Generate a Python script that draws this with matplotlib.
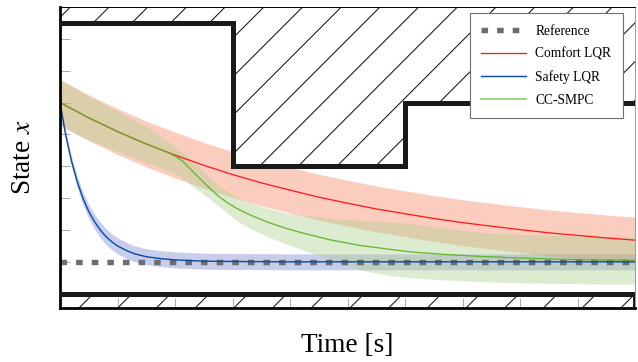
import numpy as np
import matplotlib
matplotlib.use("Agg")
import matplotlib.pyplot as plt
from matplotlib.lines import Line2D
from matplotlib.collections import LineCollection
from matplotlib.transforms import IdentityTransform

DPI = 232
plt.rcParams['font.family'] = ['Liberation Serif', 'DejaVu Serif']
plt.rcParams['mathtext.fontset'] = 'stix'

# constraints
t_con = [0, 3, 6, 10]
upper_con = [7.5, 3.0, 5.0, 5.0]
lower_con = -1.0
y_min, y_max = -1.45, 8.0

# reference
ref_value = 0.0

# comfort LQR (red)
t_red = [0, 0.5, 1.0, 1.5, 2.0, 2.5, 3.0, 3.5, 4.0, 4.5, 5.0, 5.5, 6.0, 6.5, 7.0,
         7.5, 8.0, 8.5, 9.0, 9.5, 10.0]
red_mean = [5.00, 4.52, 4.09, 3.70, 3.35, 3.03, 2.74, 2.48, 2.25, 2.03, 1.84, 1.66,
            1.51, 1.36, 1.23, 1.12, 1.01, 0.91, 0.83, 0.75, 0.68]
red_spread = [0.72] * 21

# safety LQR (blue)
t_blue = [0, 0.1, 0.2, 0.3, 0.4, 0.5, 0.6, 0.7, 0.8, 0.9, 1.0, 1.15, 1.3, 1.5, 1.75,
          2.0, 2.5, 3.0, 4.0, 5.0, 6.0, 7.0, 8.0, 9.0, 10.0]
blue_mean = [5.00, 3.97, 3.16, 2.51, 1.99, 1.58, 1.26, 1.00, 0.79, 0.63, 0.50, 0.36,
             0.25, 0.16, 0.10, 0.06, 0.02, 0.01, 0.0, 0.0, 0.0, 0.0, 0.0, 0.0, 0.0]
blue_spread = [0.08, 0.12, 0.15, 0.18, 0.20, 0.22, 0.23, 0.24, 0.25, 0.25, 0.25, 0.25,
               0.25, 0.25, 0.25, 0.25, 0.25, 0.25, 0.25, 0.25, 0.25, 0.25, 0.25, 0.25, 0.25]

# CC-SMPC (green)
t_green = [0, 0.5, 1.0, 1.5, 1.83, 2.0, 2.14, 2.3, 2.45, 2.6, 2.75, 2.9, 3.05, 3.2,
           3.36, 3.65, 3.95, 4.25, 4.7, 5.2, 5.7, 6.1, 6.7, 7.3, 8.0, 8.7, 9.4, 10.0]
green_mean = [5.00, 4.52, 4.09, 3.70, 3.47, 3.32, 3.15, 2.85, 2.58, 2.32, 2.07, 1.87,
              1.70, 1.56, 1.43, 1.22, 1.04, 0.89, 0.69, 0.52, 0.40, 0.31, 0.23, 0.17,
              0.12, 0.08, 0.06, 0.05]
green_hi = [5.72, 5.20, 4.72, 4.25, 3.85, 3.62, 3.42, 3.18, 2.92, 2.66, 2.40, 2.22,
            2.05, 1.92, 1.82, 1.66, 1.53, 1.45, 1.37, 1.30, 1.25, 1.20, 1.05, 0.92,
            0.86, 0.82, 0.79, 0.77]
green_lo = [4.28, 3.84, 3.46, 3.12, 2.90, 2.76, 2.62, 2.38, 2.18, 1.98, 1.76, 1.54,
            1.31, 1.15, 1.00, 0.76, 0.55, 0.35, 0.08, -0.25, -0.42, -0.50, -0.57, -0.62,
            -0.66, -0.68, -0.70, -0.70]

fig = plt.figure(figsize=(638 / DPI, 362 / DPI), dpi=DPI)
ax = fig.add_axes([60 / 638, 54 / 362, 575 / 638, 301 / 362])


def add_hatch(poly, spacing=38.7):
    # 45 degree hatch lines in pixel space, clipped to the region
    w, h = fig.bbox.width, fig.bbox.height
    offs = np.arange(-h, w + spacing, spacing)
    segs = [[(c, 0), (c + h, h)] for c in offs]
    lc = LineCollection(segs, colors='#111111', linewidths=0.32,
                        transform=IdentityTransform(), zorder=1.6)
    ax.add_collection(lc, autolim=False)
    lc.set_clip_path(poly.get_paths()[0], ax.transData)


rm, rs = np.array(red_mean), np.array(red_spread)
bm, bs = np.array(blue_mean), np.array(blue_spread)

ax.fill_between(t_blue, bm - bs, bm + bs, color='#7582cd', alpha=0.4, lw=0, zorder=1.0)
ax.fill_between(t_red, rm - rs, rm + rs, color='#f4845f', alpha=0.4, lw=0, zorder=1.1)
ax.fill_between(t_green, green_lo, green_hi, color='#acd08e', alpha=0.4, lw=0, zorder=1.2)

# infeasible regions: opaque white + hatch
top_reg = ax.fill_between(t_con, upper_con, y_max, step='post', facecolor='white',
                          lw=0, zorder=1.5)
bot_reg = ax.fill_between([t_con[0], t_con[-1]], y_min, lower_con, facecolor='white',
                          lw=0, zorder=1.5)
add_hatch(top_reg)
add_hatch(bot_reg)

ax.axhline(ref_value, color='#6e6e6e', lw=1.7, dashes=(1.2, 1.65), zorder=2)
ax.plot(t_red, red_mean, color='#ff1a1a', lw=0.4, zorder=2.2)
ax.plot(t_green, green_mean, color='#62b52e', lw=0.4, zorder=2.3)
ax.plot(t_blue, blue_mean, color='#0b4fa8', lw=0.45, zorder=2.4)

# constraint boundaries
ax.plot(t_con, upper_con, drawstyle='steps-post', color='#1a1a1a', lw=1.55,
        solid_joinstyle='miter', zorder=3)
ax.plot([t_con[0], t_con[-1], t_con[-1]], [lower_con, lower_con, y_min],
        color='#1a1a1a', lw=1.55, solid_joinstyle='miter', zorder=3)

ax.set_xlim(0, 10)
ax.set_ylim(y_min, y_max)
ax.set_xticks(range(1, 10))
ax.set_yticks(range(0, 8))
ax.tick_params(direction='in', length=3.1, width=0.3, color='#aaaaaa',
               labelbottom=False, labelleft=False)
for side in ['left', 'bottom']:
    ax.spines[side].set_linewidth(0.85)
for side in ['top', 'right']:
    ax.spines[side].set_linewidth(0.3)
ax.spines['right'].set_color('#999999')

ax.set_xlabel('Time [s]', fontsize=8.5)
ax.set_ylabel('State $x$', fontsize=8.5)
ax.xaxis.set_label_coords(0.5, -0.082)
ax.yaxis.set_label_coords(-0.042, 0.5)

handles = [
    Line2D([], [], color='#6e6e6e', lw=1.7, dashes=(1.2, 1.65)),
    Line2D([], [], color='#ff1a1a', lw=0.4),
    Line2D([], [], color='#0b4fa8', lw=0.45),
    Line2D([], [], color='#99d47f', lw=0.6),
]
labels = ['Reference', 'Comfort LQR', 'Safety LQR', 'CC-SMPC']
leg = ax.legend(handles, labels, loc='upper right', bbox_to_anchor=(0.979, 0.980),
                borderaxespad=0, fontsize=4.2, handlelength=3.3, handletextpad=0.7,
                labelspacing=0.72, borderpad=0.85, fancybox=False, framealpha=1)
leg.get_frame().set_edgecolor('#707070')
leg.get_frame().set_linewidth(0.35)
leg.set_zorder(5)

fig.savefig('out.png', dpi=DPI)
